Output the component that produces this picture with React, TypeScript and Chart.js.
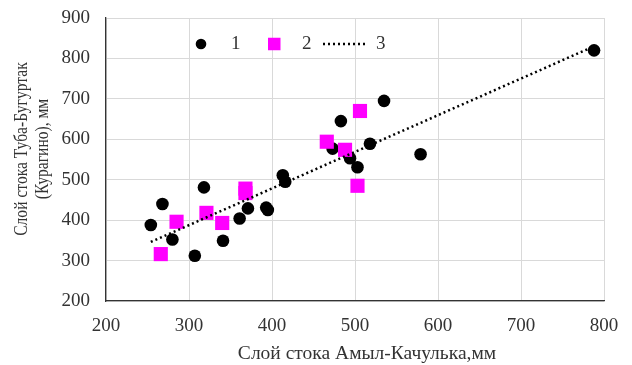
import { useEffect, useRef } from 'react';
import { Chart, registerables } from 'chart.js';

Chart.register(...registerables);

// Series 1 (black circles)
const series1X = [254, 268, 280, 307, 318, 341, 361, 371, 393, 395, 413, 416, 473, 483, 494, 503, 518, 535, 579, 788];
const series1Y = [388, 440, 352, 312, 481, 349, 404, 429, 431, 425, 511, 495, 577, 645, 553, 531, 589, 695, 563, 820];
// Series 2 (magenta squares)
const series2X = [266, 285, 321, 340, 368, 368, 466, 488, 503, 506];
const series2Y = [316, 396, 418, 393, 478, 467, 594, 574, 485, 670];
// Series 3 (linear trend, dotted)
const trendX = [254, 788];
const trendY = [346, 830];

const legendLabels = ['1', '2', '3'];
const xTitle = 'Слой стока Амыл-Качулька,мм';
const yTitleLines = ['Слой стока Туба-Бугуртак', '(Курагино), мм'];

const FONT_FAMILY = '"Liberation Serif", "Times New Roman", serif';
const TICK_SIZE = 19;
const XTITLE_SIZE = 19.5;
const YTITLE_SIZE = 19;
const TEXT_COLOR = '#333333';
const MAGENTA = '#FF00FF';

const overlayPlugin = {
  id: 'overlay',
  afterDraw(chart: any) {
    const ctx = chart.ctx as CanvasRenderingContext2D;
    const area = chart.chartArea;
    ctx.save();
    ctx.font = `${TICK_SIZE}px ${FONT_FAMILY}`;
    ctx.fillStyle = TEXT_COLOR;
    ctx.textBaseline = 'middle';

    // Legend
    const ly = area.top + 26;
    const lx = area.left;
    ctx.fillStyle = '#000';
    ctx.beginPath();
    ctx.arc(lx + 95, ly, 5.3, 0, Math.PI * 2);
    ctx.fill();
    ctx.fillStyle = TEXT_COLOR;
    ctx.textAlign = 'left';
    ctx.fillText(legendLabels[0], lx + 125, ly);
    ctx.fillStyle = MAGENTA;
    ctx.fillRect(lx + 162, ly - 6.25, 12.5, 12.5);
    ctx.fillStyle = TEXT_COLOR;
    ctx.fillText(legendLabels[1], lx + 196, ly);
    ctx.strokeStyle = '#000';
    ctx.lineWidth = 2.5;
    ctx.setLineDash([2, 3]);
    ctx.beginPath();
    ctx.moveTo(lx + 217, ly);
    ctx.lineTo(lx + 262, ly);
    ctx.stroke();
    ctx.setLineDash([]);
    ctx.fillText(legendLabels[2], lx + 270, ly);

    // X title
    ctx.font = `${XTITLE_SIZE}px ${FONT_FAMILY}`;
    ctx.textAlign = 'center';
    ctx.fillText(xTitle, 367, 354);

    // Y title (condensed as in the reference)
    ctx.font = `${YTITLE_SIZE}px ${FONT_FAMILY}`;
    const yCenters = [22, 43];
    yTitleLines.forEach((line, i) => {
      ctx.save();
      ctx.translate(yCenters[i], 149);
      ctx.rotate(-Math.PI / 2);
      ctx.scale(0.82, 1);
      ctx.fillText(line, 0, 0);
      ctx.restore();
    });

    ctx.restore();
  },
};

export default function App() {
  const canvasRef = useRef<HTMLCanvasElement | null>(null);

  useEffect(() => {
    document.body.style.margin = '0';
    const canvas = canvasRef.current;
    if (!canvas) return;
    const chart = new Chart(canvas, {
      type: 'scatter',
      data: {
        datasets: [
          {
            label: legendLabels[0],
            data: series1X.map((x, i) => ({ x, y: series1Y[i] })),
            backgroundColor: '#000',
            borderColor: '#000',
            pointRadius: 6.3,
            pointStyle: 'circle',
            borderWidth: 0,
            order: 2,
          },
          {
            label: legendLabels[1],
            data: series2X.map((x, i) => ({ x, y: series2Y[i] })),
            backgroundColor: MAGENTA,
            borderColor: MAGENTA,
            pointRadius: 10,
            pointStyle: 'rect',
            borderWidth: 0,
            order: 1,
          },
          {
            label: legendLabels[2],
            type: 'line',
            data: trendX.map((x, i) => ({ x, y: trendY[i] })),
            borderColor: '#000',
            borderWidth: 2.5,
            borderDash: [2, 3],
            pointRadius: 0,
            showLine: true,
            fill: false,
            order: 0,
          } as any,
        ],
      },
      options: {
        animation: false,
        responsive: false,
        maintainAspectRatio: false,
        layout: { padding: { left: 0, right: 28, top: 18, bottom: 0 } },
        plugins: {
          legend: { display: false },
          tooltip: { enabled: false },
        },
        scales: {
          x: {
            type: 'linear',
            min: 200,
            max: 800,
            ticks: {
              stepSize: 100,
              color: TEXT_COLOR,
              font: { family: FONT_FAMILY, size: TICK_SIZE },
              padding: 14,
              maxRotation: 0,
            },
            grid: { color: '#d9d9d9', lineWidth: 1, drawTicks: false },
            border: { color: '#333333', width: 1.3 },
            afterFit: (scale: any) => {
              scale.height = 64;
              scale.paddingLeft = 0;
              scale.paddingRight = 0;
            },
          },
          y: {
            type: 'linear',
            min: 200,
            max: 900,
            ticks: {
              stepSize: 100,
              color: TEXT_COLOR,
              font: { family: FONT_FAMILY, size: TICK_SIZE },
              padding: 16,
            },
            grid: { color: '#d9d9d9', lineWidth: 1, drawTicks: false },
            border: { color: '#333333', width: 1.3 },
            afterFit: (scale: any) => {
              scale.width = 106;
              scale.paddingTop = 0;
              scale.paddingBottom = 0;
            },
          },
        },
      },
      plugins: [overlayPlugin],
    });
    return () => chart.destroy();
  }, []);

  return (
    <div style={{ position: 'absolute', left: 0, top: 0, width: 632, height: 365, background: '#fff' }}>
      <canvas ref={canvasRef} width={632} height={365} />
    </div>
  );
}
